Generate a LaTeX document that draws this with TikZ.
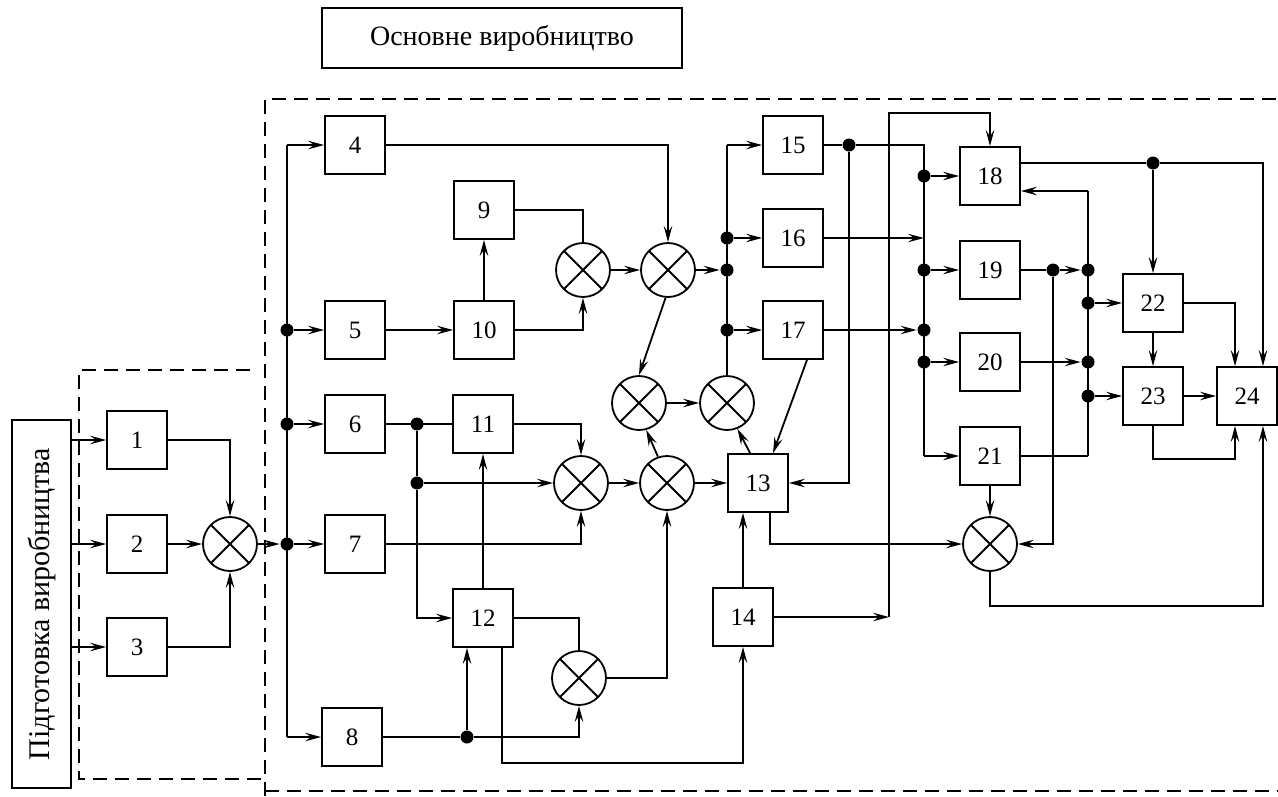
\documentclass[tikz,border=0pt]{standalone}
\usepackage{fontspec}
\usepackage{graphicx}
\setmainfont{Liberation Serif}
\usetikzlibrary{arrows.meta,calc}
\begin{document}
\begin{tikzpicture}[x=1pt,y=-1pt, line width=1.8pt,
  blk/.style={draw, minimum width=60pt, minimum height=58pt, inner sep=0pt, font=\fontsize{25}{25}\selectfont},
  mix/.style={draw, circle, minimum size=54pt, inner sep=0pt,
    path picture={\draw[line width=1.8pt] (path picture bounding box.south west) -- (path picture bounding box.north east)
      (path picture bounding box.north west) -- (path picture bounding box.south east);}},
  dot/.style={circle, fill, inner sep=0pt, minimum size=13pt},
  arr/.style={-{Stealth[length=16pt,width=8.5pt,inset=6pt]}},
  dsh/.style={dash pattern=on 14pt off 8pt},
]
\useasboundingbox (0,0) rectangle (1278,796);

% frames
\node[draw, minimum width=360pt, minimum height=60pt, inner sep=0pt, font=\fontsize{28}{28}\selectfont] (T) at (502,38) {Основне виробництво};
\node[draw, minimum width=59pt, minimum height=368pt, inner sep=0pt, font=\fontsize{30}{30}\selectfont] (P) at (41.5,604) {\rotatebox{90}{Підготовка виробництва}};
\draw[dsh] (265,796) -- (265,99) -- (1278,99);
\draw[dsh, line width=1.4pt] (265,791) -- (1278,791);
\draw[dsh] (250,370) -- (79,370) -- (79,779) -- (265,779);

% blocks
\node[blk] (b1) at (137,440) {1};
\node[blk] (b2) at (137,544) {2};
\node[blk] (b3) at (137,647) {3};
\node[blk] (b4) at (355,145) {4};
\node[blk] (b5) at (355,330) {5};
\node[blk] (b6) at (355,424) {6};
\node[blk] (b7) at (355,544) {7};
\node[blk] (b8) at (352,737) {8};
\node[blk] (b9) at (484,210) {9};
\node[blk] (b10) at (484,330) {10};
\node[blk] (b11) at (483,424) {11};
\node[blk] (b12) at (483,618) {12};
\node[blk] (b13) at (758,483) {13};
\node[blk] (b14) at (743,617) {14};
\node[blk] (b15) at (793,145) {15};
\node[blk] (b16) at (793,238) {16};
\node[blk] (b17) at (793,330) {17};
\node[blk] (b18) at (990,176) {18};
\node[blk] (b19) at (990,270) {19};
\node[blk] (b20) at (990,362) {20};
\node[blk] (b21) at (990,456) {21};
\node[blk] (b22) at (1153,303) {22};
\node[blk] (b23) at (1153,396) {23};
\node[blk] (b24) at (1247,396) {24};

% mixers
\node[mix] (m0) at (230,544) {};
\node[mix] (mA) at (583,270) {};
\node[mix] (mB) at (668,270) {};
\node[mix] (mC) at (639,403) {};
\node[mix] (mD) at (727,403) {};
\node[mix] (mE) at (581,483) {};
\node[mix] (mF) at (667,483) {};
\node[mix] (mG) at (579,678) {};
\node[mix] (mH) at (990,544) {};

% dots
\node[dot] (d5) at (287,330) {};
\node[dot] (d6) at (287,424) {};
\node[dot] (d7) at (287,544) {};
\node[dot] (d6b) at (417,424) {};
\node[dot] (d6c) at (417,483) {};
\node[dot] (d8) at (467,737) {};
\node[dot] (dB1) at (727,238) {};
\node[dot] (dB2) at (727,270) {};
\node[dot] (dB3) at (727,330) {};
\node[dot] (d15) at (849,145) {};
\node[dot] (dR1) at (924,176) {};
\node[dot] (dR2) at (924,270) {};
\node[dot] (dR3) at (924,330) {};
\node[dot] (dR4) at (924,362) {};
\node[dot] (d19) at (1053,270) {};
\node[dot] (dS1) at (1088,270) {};
\node[dot] (dS2) at (1088,303) {};
\node[dot] (dS3) at (1088,362) {};
\node[dot] (dS4) at (1088,396) {};
\node[dot] (d18) at (1153,163) {};

% coordinates
\coordinate (t4) at (287,145);
\coordinate (t8) at (287,737);
\coordinate (k15) at (727,145);
\coordinate (r15) at (924,145);
\coordinate (rB) at (924,456);
\coordinate (k14) at (889,617);
\coordinate (k14t) at (889,113);
\coordinate (s18) at (1088,191);
\coordinate (s21) at (1088,456);

% preparation
\draw[arr] (P.east|-b1) -- (b1.west);
\draw[arr] (P.east|-b2) -- (b2.west);
\draw[arr] (P.east|-b3) -- (b3.west);
\draw[arr] (b1.east) -| (m0.north);
\draw[arr] (b2) -- (m0);
\draw[arr] (b3.east) -| (m0.south);
\draw[arr] (m0) -- (d7);

% bus 1
\draw (t4) -- (t8);
\draw[arr] (t4) -- (b4.west);
\draw[arr] (d5) -- (b5);
\draw[arr] (d6) -- (b6);
\draw[arr] (d7) -- (b7);
\draw[arr] (t8) -- (b8.west);

% middle
\draw[arr] (b5) -- (b10);
\draw[arr] (b10) -- (b9);
\draw (b9.east) -| (mA.north);
\draw[arr] (b10.east) -| (mA.south);
\draw[arr] (mA) -- (mB);
\draw[arr] (b4.east) -| (mB.north);
\draw[arr] (mB) -- (dB2);
\draw[arr] (mB.265) -- (mC.north);
\draw[arr] (mF.109) -- (mC.285);
\draw[arr] (mC) -- (mD);
\draw[arr] ($(b13.north west)+(23,0)$) -- (mD.292);
\draw (mD.north) -- (k15);
\draw[arr] (k15) -- (b15.west);
\draw[arr] (dB1) -- (b16);
\draw[arr] (dB3) -- (b17);
\draw[arr] ($(b17.south)+(14,0)$) -- ($(b13.north)+(15,0)$);

\draw (b6) -- (b11);
\draw (d6b) -- (d6c);
\draw[arr] (d6c) |- (b12.west);
\draw[arr] (d6c) -- (mE);
\draw[arr] (b12) -- (b11);
\draw[arr] (b11.east) -| (mE.north);
\draw[arr] (b7.east) -| (mE.south);
\draw[arr] (mE) -- (mF);
\draw[arr] (mF) -- (b13);
\draw (b12.east) -| (mG.north);
\draw[arr] (mG.east) -| (mF.south);
\draw (b8) -- (d8);
\draw[arr] (d8) -| (mG.south);
\draw[arr] (d8) -- (d8|-b12.south);
\draw[arr] ($(b12.south)+(19,0)$) -- ++(0,115) -| (b14.south);
\draw[arr] (b14.north) -- (b14.north|-b13.south);
\draw[arr] (b14.east) -- (k14);
\draw[arr] (k14) -- (k14t) -| (b18.north);

% right part
\draw (b15) -- (d15);
\draw (d15) -- (r15) -- (rB);
\draw[arr] (rB) -- (b21.west);
\draw[arr] (d15) |- (b13.east);
\draw[arr] (dR1) -- (b18);
\draw[arr] (dR2) -- (b19);
\draw[arr] (dR4) -- (b20);
\draw[arr] (b16.east) -- (b16.east-|r15);
\draw[arr] (b17) -- (dR3);
\draw[arr] ($(b13.south)+(12,0)$) |- (mH.west);
\draw[arr] (b21) -- (mH);
\draw (b19) -- (d19);
\draw[arr] (d19) -- (dS1);
\draw[arr] (d19) |- (mH.east);
\draw (s18) -- (s21);
\draw[arr] (s18) -- (s18-|b18.east);
\draw (b21.east) -- (s21);
\draw[arr] (dS2) -- (b22);
\draw[arr] (dS4) -- (b23);
\draw[arr] (b20) -- (dS3);
\draw ($(b18.east)+(0,-13)$) -- (d18);
\draw[arr] (d18) -| ($(b24.north)+(16,0)$);
\draw[arr] (d18) -- (b22);
\draw[arr] (b22.east) -| ($(b24.north)+(-12,0)$);
\draw[arr] (b22) -- (b23);
\draw[arr] (b23) -- (b24);
\draw[arr] (b23.south) -- ++(0,33) -| ($(b24.south)+(-12,0)$);
\draw[arr] (mH.south) -- ++(0,34) -| ($(b24.south)+(16,0)$);
\end{tikzpicture}
\end{document}
